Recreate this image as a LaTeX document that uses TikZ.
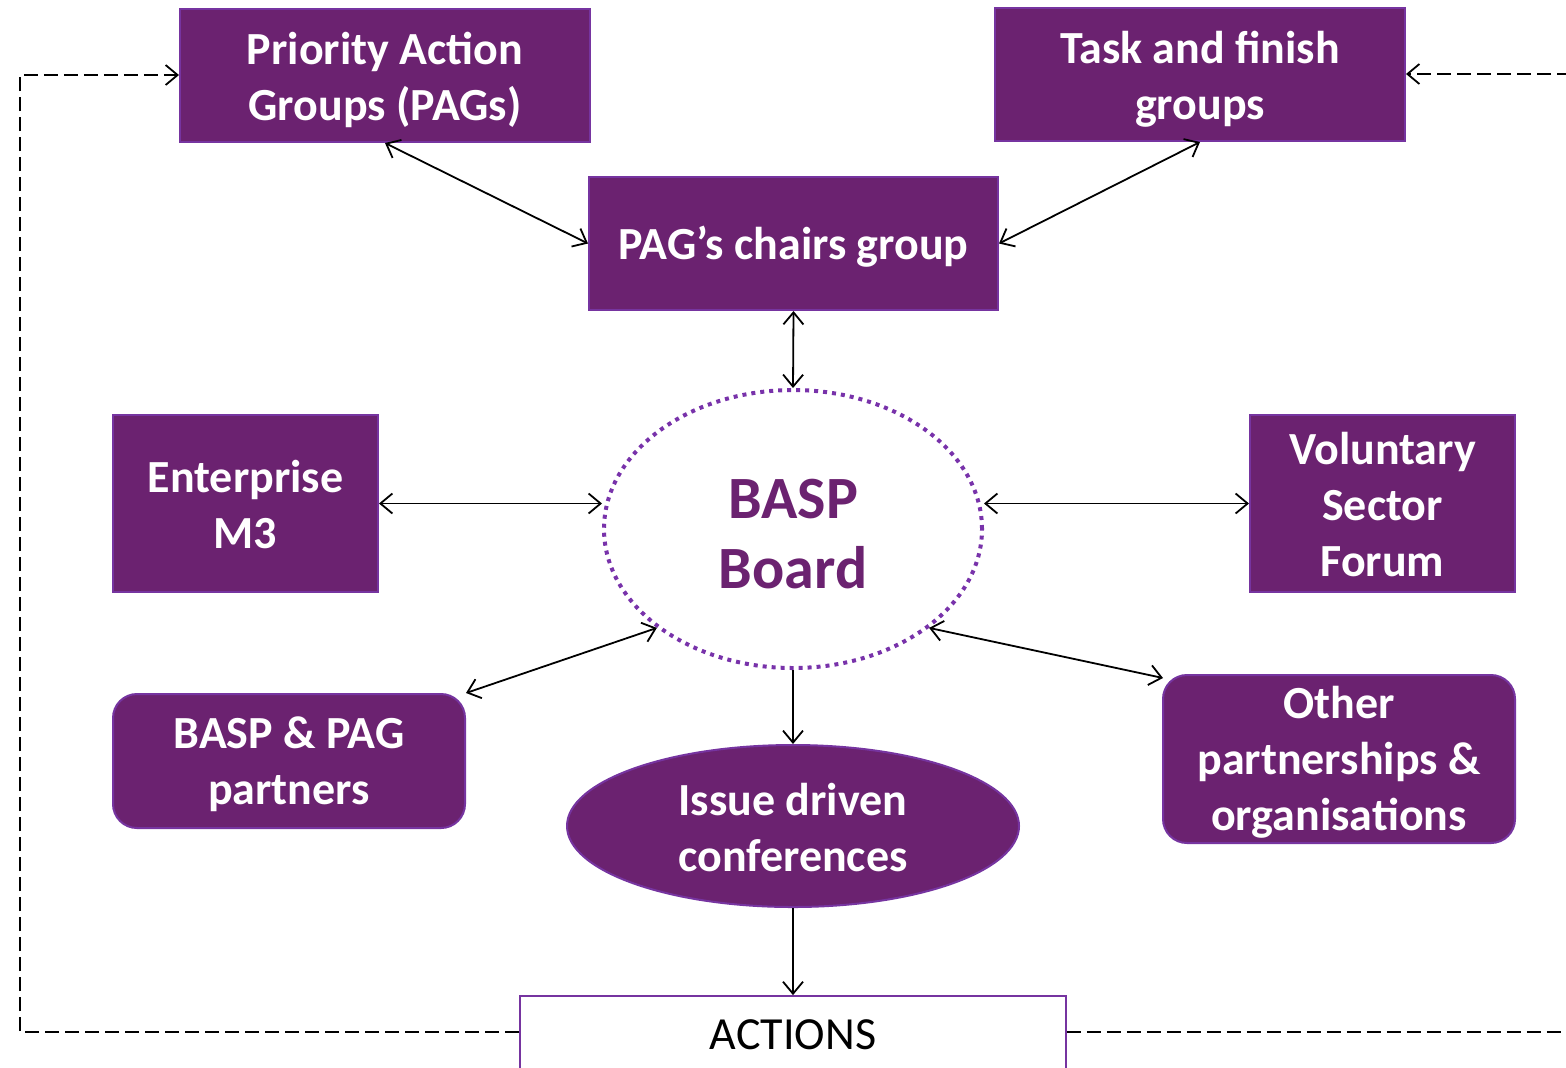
\documentclass[tikz,border=0pt]{standalone}
\usepackage{fontspec}
\setmainfont{Carlito}
\usetikzlibrary{shapes.geometric,arrows.meta}
\definecolor{pfill}{RGB}{107,34,112}
\definecolor{pborder}{RGB}{118,52,160}
\definecolor{pdot}{RGB}{120,50,170}
\newcommand{\dn}[2][2pt]{\raisebox{-#1}[\height][\depth]{\begin{tabular}{@{}c@{}}#2\end{tabular}}}
\begin{document}
\begin{tikzpicture}[x=0.5pt,y=-0.5pt,
  box/.style={draw=pborder,line width=1pt,fill=pfill,text=white,
    font=\bfseries\fontsize{23}{28}\selectfont,inner sep=0pt,
    rectangle},
  rbox/.style={box,rounded corners=12pt},
  ebox/.style={box,ellipse},
  conn/.style={line width=0.9pt,{Straight Barb[length=6pt,width=10pt]}-{Straight Barb[length=6pt,width=10pt]}},
  oneway/.style={line width=0.9pt,-{Straight Barb[length=6pt,width=10pt]}},
  loop/.style={line width=0.9pt,dash pattern=on 7pt off 3pt,-{Straight Barb[length=6pt,width=10pt]}}
]
\useasboundingbox (0,0) rectangle (1566,1067);
\clip (0,0) rectangle (1566,1067);
\fill[white] (0,0) rectangle (1566,1067);

\node[box,minimum width=205pt,minimum height=66.5pt] (pags) at (385,75.5) {\dn[3pt]{Priority Action\\Groups (PAGs)}};
\node[box,minimum width=205pt,minimum height=66.5pt] (task) at (1200,74.5) {\dn[3pt]{Task and finish\\groups}};
\node[box,minimum width=204.5pt,minimum height=66.5pt] (chairs) at (793.5,243.5) {\dn[2.5pt]{PAG’s chairs group}};
\node[ellipse,draw=pdot,line width=2pt,dash pattern=on 2pt off 2.5pt,
      minimum width=189pt,minimum height=139pt,inner sep=0pt,
      text=pfill,font=\bfseries\fontsize{30}{35}\selectfont] (basp) at (793,529) {\dn[5pt]{BASP\\Board}};
\node[box,minimum width=132.5pt,minimum height=88.5pt] (ent) at (245.5,503.5) {\dn[3pt]{Enterprise\\M3}};
\node[box,minimum width=132.5pt,minimum height=88.5pt] (vol) at (1382.5,503.5) {\dn[3pt]{Voluntary\\Sector\\Forum}};
\node[rbox,minimum width=176pt,minimum height=67pt] (partners) at (289,761) {\dn[2pt]{BASP \& PAG\\partners}};
\node[ebox,minimum width=226pt,minimum height=81pt] (issue) at (793,826) {\dn[3pt]{Issue driven\\conferences}};
\node[rbox,minimum width=176pt,minimum height=81pt] (other) at (1339,759) {\dn[2.3pt]{Other\\partnerships \&\\organisations}};
\node[draw=pborder,line width=0.9pt,fill=white,minimum width=273pt,minimum height=39pt,inner sep=0pt,
      font=\fontsize{23}{28}\selectfont] (actions) at (793,1035) {ACTIONS};

\draw[conn] (pags.south) -- (chairs.west);
\draw[conn] (task.south) -- (chairs.east);
\draw[conn] (chairs.south) -- (basp.north);
\draw[conn] (ent.east) -- (ent.east -| basp.west);
\draw[conn] (vol.west) -- (vol.west -| basp.east);
\draw[conn] (partners.north east) -- (basp.216);
\coordinate (otherin) at (1163,678);
\draw[conn] (otherin) -- (basp.324);
\draw[oneway] (basp.south) -- (issue.north);
\draw[oneway] (issue.south) -- (actions.north);

\coordinate (ll) at (20,1032);
\coordinate (lu) at (20,75);
\draw[loop] (actions.west |- ll) -- (ll) -- (lu) -- (pags.west |- lu);
\coordinate (rl) at (1600,1032);
\coordinate (ru) at (1600,74);
\draw[loop] (actions.east |- rl) -- (rl) -- (ru) -- (task.east |- ru);
\end{tikzpicture}
\end{document}
